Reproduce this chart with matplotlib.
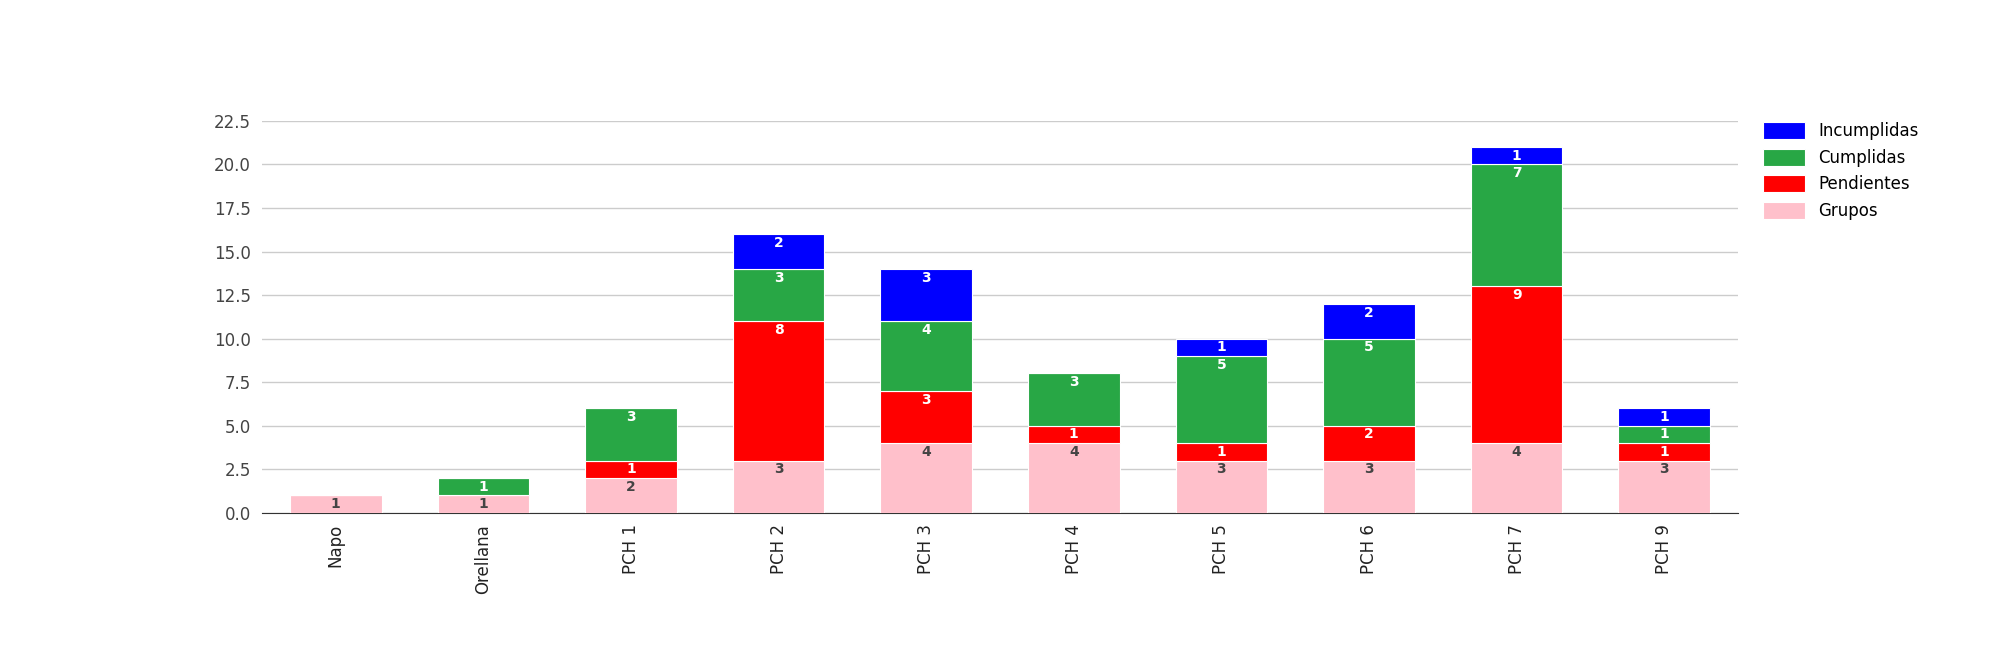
import matplotlib.pyplot as plt
import numpy as np

categories = ['Napo', 'Orellana', 'PCH 1', 'PCH 2', 'PCH 3', 'PCH 4', 'PCH 5', 'PCH 6', 'PCH 7', 'PCH 9']
grupos = [1, 1, 2, 3, 4, 4, 3, 3, 4, 3]
pendientes = [0, 0, 1, 8, 3, 1, 1, 2, 9, 1]
cumplidas = [0, 1, 3, 3, 4, 3, 5, 5, 7, 1]
incumplidas = [0, 0, 0, 2, 3, 0, 1, 2, 1, 1]

series = [('Grupos', grupos, '#ffc0cb', '#444444'),
          ('Pendientes', pendientes, '#ff0000', 'white'),
          ('Cumplidas', cumplidas, '#28a745', 'white'),
          ('Incumplidas', incumplidas, '#0000ff', 'white')]

fig = plt.figure(figsize=(20, 6.5), dpi=100)
ax = fig.add_axes([0.131, 0.211, 0.738, 0.603])
x = np.arange(len(categories))
bottom = np.zeros(len(categories))
handles = []
for name, vals, color, tcolor in series:
    vals = np.array(vals, dtype=float)
    bars = ax.bar(x, vals, 0.62, bottom=bottom, color=color, edgecolor='white', linewidth=0.8, label=name, zorder=3)
    handles.append(bars)
    for xi, b, v in zip(x, bottom, vals):
        if v > 0:
            ax.text(xi, b + v - 0.5, f'{int(v)}', ha='center', va='center', color=tcolor,
                    fontsize=10, fontweight='bold', zorder=4)
    bottom += vals

ax.set_ylim(0, 22.5)
ax.set_xlim(-0.5, len(categories) - 0.5)
ax.set_yticks(np.arange(0, 22.6, 2.5))
ax.set_yticklabels([f'{v:.1f}' for v in np.arange(0, 22.6, 2.5)], fontsize=12, color='#444444')
ax.set_xticks(x)
ax.set_xticklabels(categories, rotation=90, fontsize=12, color='#222222')
ax.grid(axis='y', color='#cccccc', linewidth=1, zorder=0)
for s in ['top', 'right', 'left']:
    ax.spines[s].set_visible(False)
ax.spines['bottom'].set_color('#333333')
ax.tick_params(length=0, pad=8)

fig.legend(handles[::-1], [s[0] for s in series][::-1], loc='upper left', bbox_to_anchor=(0.874, 0.835),
           frameon=False, fontsize=12, handlelength=2.5, handleheight=1.2, labelspacing=0.5)
fig.savefig('out.png')
